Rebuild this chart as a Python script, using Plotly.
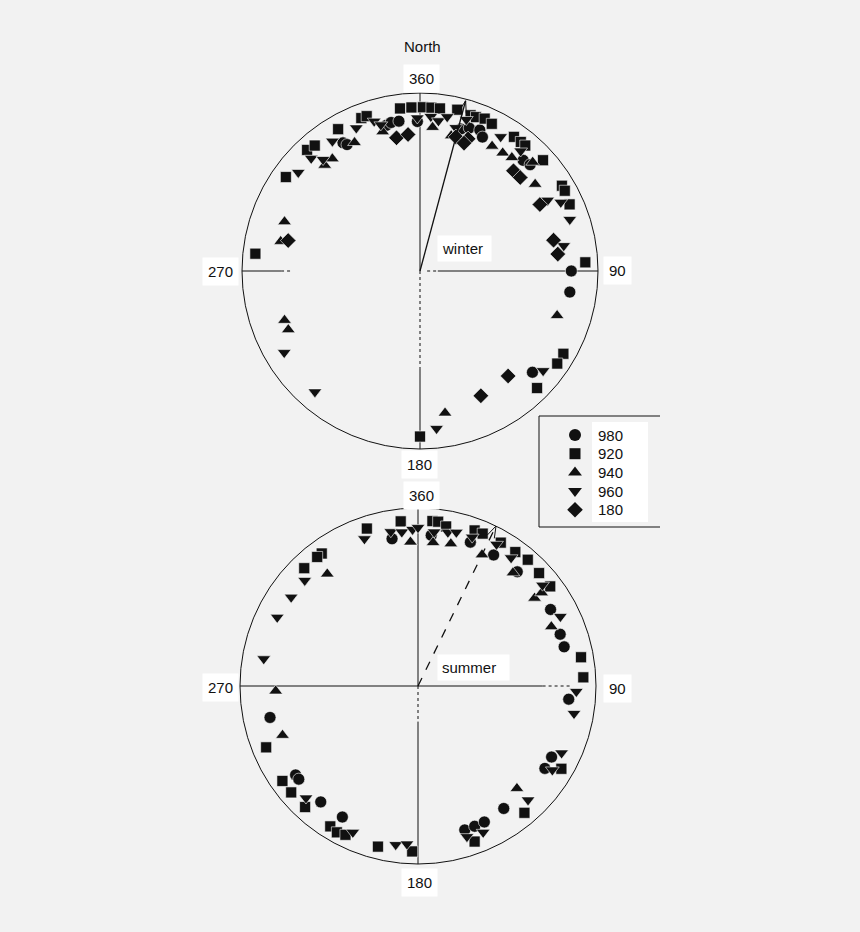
import numpy as np
import plotly.graph_objects as go

# ---- data: direction (deg, clockwise from north) and radius per level ----
levels = ['980', '920', '940', '960', '180']
symbols = ['circle', 'square', 'triangle-up', 'triangle-down', 'diamond']
sizes = [12, 11, 12, 12, 12]

winter_980_dir = [329, 330, 347, 349, 352, 359, 16, 19, 23, 25, 43, 46, 90, 98, 132]
winter_980_r = [0.84, 0.82, 0.84, 0.85, 0.85, 0.84, 0.83, 0.85, 0.86, 0.83, 0.85, 0.86, 0.85, 0.85, 0.85]
winter_920_dir = [353, 357, 1, 4, 7, 13, 18, 20, 23, 26, 35, 38, 40, 48, 59, 61, 66, 87, 120, 124,
                  135, 180, 276, 305, 317, 320, 330, 339, 341]
winter_920_r = [0.92, 0.92, 0.92, 0.92, 0.92, 0.93, 0.92, 0.92, 0.93, 0.92, 0.92, 0.92, 0.92, 0.93, 0.93,
                0.93, 0.92, 0.93, 0.93, 0.93, 0.93, 0.93, 0.93, 0.92, 0.93, 0.92, 0.92, 0.92, 0.92]
winter_940_dir = [290, 282, 250, 246, 318, 322, 333, 345, 5, 13, 30, 35, 39, 46, 53, 108, 170]
winter_940_r = [0.81, 0.80, 0.81, 0.81, 0.80, 0.80, 0.81, 0.81, 0.81, 0.78, 0.81, 0.81, 0.82, 0.88, 0.81,
                0.81, 0.81]
winter_960_dir = [309, 316, 319, 326, 336, 343, 345, 359, 4, 7, 10, 14, 17, 31, 40, 61, 64, 71, 80, 129,
                  174, 239, 221]
winter_960_r = [0.88, 0.88, 0.83, 0.88, 0.88, 0.88, 0.85, 0.86, 0.87, 0.85, 0.88, 0.83, 0.89, 0.88, 0.88,
                0.82, 0.88, 0.89, 0.82, 0.89, 0.89, 0.89, 0.90]
winter_180_dir = [350, 355, 15, 20, 19, 43, 47, 61, 77, 83, 140, 154, 283]
winter_180_r = [0.76, 0.77, 0.78, 0.79, 0.76, 0.77, 0.77, 0.77, 0.77, 0.78, 0.77, 0.78, 0.76]

summer_980_dir = [350, 5, 20, 30, 41, 60, 70, 75, 95, 118, 123, 145, 162, 158, 154, 210, 220, 234, 232, 258]
summer_980_r = [0.84, 0.85, 0.86, 0.85, 0.85, 0.86, 0.85, 0.85, 0.85, 0.85, 0.85, 0.84, 0.85, 0.85, 0.85,
                0.85, 0.85, 0.85, 0.85, 0.85]
summer_920_dir = [342, 354, 5, 7, 10, 20, 23, 30, 36, 41, 47, 53, 80, 87, 120, 140, 160, 182, 194, 212,
                  209, 206, 223, 230, 235, 248, 324, 322, 316]
summer_920_r = [0.93, 0.93, 0.93, 0.93, 0.91, 0.93, 0.93, 0.93, 0.93, 0.94, 0.93, 0.93, 0.93, 0.93, 0.93,
                0.93, 0.93, 0.93, 0.93, 0.93, 0.94, 0.93, 0.93, 0.93, 0.93, 0.92, 0.92, 0.92, 0.92]
summer_940_dir = [357, 6, 13, 26, 40, 53, 53, 66, 136, 321, 268, 250]
summer_940_r = [0.81, 0.81, 0.82, 0.82, 0.83, 0.82, 0.87, 0.82, 0.80, 0.81, 0.80, 0.81]
summer_960_dir = [340, 350, 354, 358, 0, 6, 11, 14, 20, 29, 36, 51, 64, 92, 100, 115, 122, 136, 156, 162,
                  188, 184, 204, 225, 313, 305, 296, 280]
summer_960_r = [0.88, 0.88, 0.87, 0.88, 0.89, 0.87, 0.88, 0.89, 0.89, 0.91, 0.89, 0.90, 0.89, 0.89, 0.89,
                0.89, 0.89, 0.89, 0.90, 0.89, 0.90, 0.89, 0.90, 0.89, 0.87, 0.87, 0.88, 0.88]
summer_180_dir = []
summer_180_r = []

# mean direction vectors
winter_mean = (15, 0.99)
summer_mean = (26, 1.0)

winter = [(winter_980_dir, winter_980_r), (winter_920_dir, winter_920_r), (winter_940_dir, winter_940_r),
          (winter_960_dir, winter_960_r), (winter_180_dir, winter_180_r)]
summer = [(summer_980_dir, summer_980_r), (summer_920_dir, summer_920_r), (summer_940_dir, summer_940_r),
          (summer_960_dir, summer_960_r), (summer_180_dir, summer_180_r)]

W, H = 860, 932
BG = '#f2f2f2'
INK = '#111111'
FONT = 'Liberation Sans, Arial, sans-serif'


def px(x):
    return x / W


def py(y):
    return 1 - y / H


fig = go.Figure()

# crosshair segments: (theta, r0, r1, dash)
winter_cross = [(0, 0, 1, 'solid'), (180, 0, 0.55, 'dot'), (180, 0.55, 1, 'solid'),
                (270, 0.78, 1, 'solid'), (270, 0.73, 0.78, 'dot'),
                (90, 0.04, 0.1, 'dot'), (90, 0.1, 1, 'solid')]
summer_cross = [(0, 0, 1, 'solid'), (180, 0, 0.2, 'dot'), (180, 0.2, 1, 'solid'),
                (270, 0, 1, 'solid'), (90, 0, 0.7, 'solid'), (90, 0.7, 0.86, 'dot')]


def add_season(data, cross, mean, sub, dash):
    for th, r0, r1, d in cross:
        fig.add_trace(go.Scatterpolar(r=[r0, r1], theta=[th, th], mode='lines', subplot=sub,
                                      line=dict(color=INK, width=1, dash=d),
                                      showlegend=False, hoverinfo='skip'))
    for i, (dirs, rs) in enumerate(data):
        fig.add_trace(go.Scatterpolar(
            r=rs, theta=dirs, mode='markers', subplot=sub, name=levels[i], showlegend=False,
            marker=dict(symbol=symbols[i], size=sizes[i], color=INK,
                        line=dict(color='white', width=0.6)),
            hovertemplate=levels[i] + ': %{theta}°<extra></extra>'))
    # mean vector with open arrowhead
    th, rm = mean
    t = np.radians(th)
    tip = rm * np.array([np.sin(t), np.cos(t)])
    back = -np.array([np.sin(t), np.cos(t)])
    barbs = []
    for a in (np.radians(18), -np.radians(18)):
        rot = np.array([back[0] * np.cos(a) - back[1] * np.sin(a), back[0] * np.sin(a) + back[1] * np.cos(a)])
        barbs.append(tip + 0.07 * rot)
    fig.add_trace(go.Scatterpolar(r=[0, rm], theta=[th, th], mode='lines', subplot=sub,
                                  line=dict(color=INK, width=1.3, dash=dash),
                                  showlegend=False, hoverinfo='skip'))
    pts = [barbs[0], tip, barbs[1]]
    fig.add_trace(go.Scatterpolar(r=[np.hypot(p[0], p[1]) for p in pts],
                                  theta=[np.degrees(np.arctan2(p[0], p[1])) % 360 for p in pts],
                                  mode='lines', subplot=sub, line=dict(color=INK, width=1),
                                  showlegend=False, hoverinfo='skip'))


add_season(winter, winter_cross, winter_mean, 'polar', 'solid')
add_season(summer, summer_cross, summer_mean, 'polar2', 'dash')

# hand-made legend on a pixel-scaled overlay axis
legend_x, legend_y0, legend_dy = 575, 435, 18.7
for i, lev in enumerate(levels):
    yy = legend_y0 + i * legend_dy
    fig.add_trace(go.Scatter(x=[legend_x], y=[yy], mode='markers', xaxis='x', yaxis='y',
                             marker=dict(symbol=symbols[i], size=sizes[i], color=INK),
                             showlegend=False, hoverinfo='skip'))
    fig.add_annotation(text=lev, x=legend_x + 21, y=yy, xref='x', yref='y', showarrow=False,
                       xanchor='left', yanchor='middle', font=dict(size=15, color=INK))

polar_common = dict(
    bgcolor='rgba(0,0,0,0)',
    angularaxis=dict(rotation=90, direction='clockwise', showgrid=False, showticklabels=False,
                     ticks='', linecolor=INK, linewidth=1),
    radialaxis=dict(range=[0, 1], visible=False),
)

# circle centres (420,271) and (418,686), radius ~178 px
fig.update_layout(
    width=W, height=H,
    margin=dict(l=0, r=0, t=0, b=0),
    paper_bgcolor=BG, plot_bgcolor='rgba(0,0,0,0)',
    font=dict(family=FONT, size=15, color=INK),
    polar=dict(domain=dict(x=[px(420 - 178), px(420 + 178)], y=[py(271 + 178), py(271 - 178)]),
               **polar_common),
    polar2=dict(domain=dict(x=[px(418 - 178), px(418 + 178)], y=[py(686 + 178), py(686 - 178)]),
                **polar_common),
    xaxis=dict(domain=[0, 1], range=[0, W], visible=False, fixedrange=True),
    yaxis=dict(domain=[0, 1], range=[H, 0], visible=False, fixedrange=True),
    showlegend=False,
)

# legend box (open at the right edge) and white label panel
fig.add_shape(type='rect', xref='paper', yref='paper', x0=px(592), x1=px(648), y0=py(522), y1=py(422),
              fillcolor='white', line=dict(width=0), layer='below')
for x0, y0, x1, y1 in [(539, 416, 539, 527), (539, 416, 660, 416), (539, 527, 660, 527)]:
    fig.add_shape(type='line', xref='paper', yref='paper', x0=px(x0), y0=py(y0), x1=px(x1), y1=py(y1),
                  line=dict(color=INK, width=1))

labels = [('North', 422, 47, False), ('360', 421, 78, True), ('90', 617, 270, True),
          ('180', 419, 464, True), ('270', 221, 271, True),
          ('360', 421, 495, True), ('90', 617, 688, True), ('180', 419, 882, True), ('270', 221, 687, True)]
for txt, x, y, box in labels:
    fig.add_annotation(text=txt, x=px(x), y=py(y), xref='paper', yref='paper', showarrow=False,
                       xanchor='center', yanchor='middle',
                       font=dict(size=15, color=INK), bgcolor='white' if box else None, borderpad=5)

fig.add_annotation(text='winter ', x=px(464), y=py(248), xref='paper', yref='paper', showarrow=False,
                   xanchor='center', yanchor='middle',
                   font=dict(size=15, color=INK), bgcolor='white', borderpad=4)
fig.add_annotation(text='summer  ', x=px(473), y=py(667), xref='paper', yref='paper', showarrow=False,
                   xanchor='center', yanchor='middle',
                   font=dict(size=15, color=INK), bgcolor='white', borderpad=4)

fig.write_html('out.html', config={'displayModeBar': False},
               post_script="document.body.style.margin='0';document.body.style.background='%s';" % BG)
